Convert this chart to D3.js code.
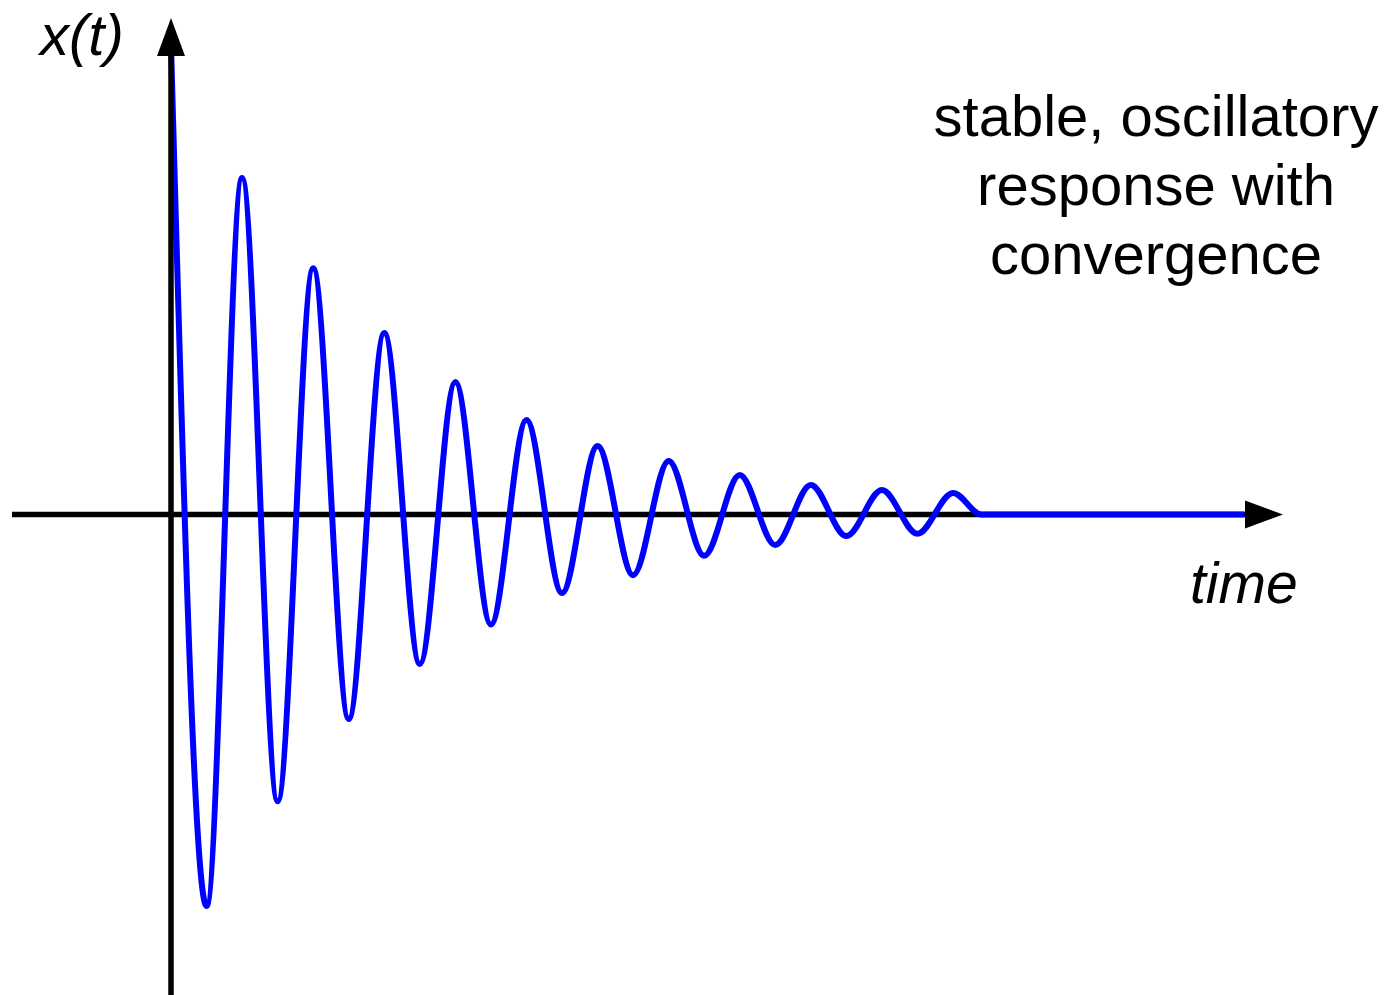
<!DOCTYPE html>
<html>
<head>
<meta charset="utf-8">
<script src="https://cdn.jsdelivr.net/npm/d3@7"></script>
<style>
  html, body { margin: 0; padding: 0; background: #fff; }
  svg { display: block; }
</style>
</head>
<body>
<div id="chart"></div>
<script>
// damped oscillation: extrema of the response
var times  = [0, 0.5, 1, 1.5, 2, 2.5, 3, 3.5, 4, 4.5, 5, 5.5, 6, 6.5, 7, 7.5, 8, 8.5, 9, 9.5, 10, 10.5, 11, 11.4, 15.1];
var values = [1.0, -0.833, 0.716, -0.610, 0.524, -0.435, 0.386, -0.318, 0.282, -0.234, 0.201, -0.167,
              0.146, -0.129, 0.114, -0.088, 0.084, -0.065, 0.063, -0.046, 0.052, -0.041, 0.046, 0, 0];

var yLabel = 'x(t)';
var xLabel = 'time';
var note = ['stable, oscillatory', 'response with', 'convergence'];

var w = 1386;
var h = 995;
var blue = '#0000ff';

var data = times.map((t, i) => ({t: t, v: values[i]}));

var x = d3.scaleLinear()
     .domain([0, 11])
     .range([171, 953]);

var y = d3.scaleLinear()
     .domain([0, 1])
     .range([514.5, 44.5]);

var svg = d3.select('#chart')
     .append('svg')
     .attr('width', w)
     .attr('height', h);

// horizontal axis with arrow
var xStart = x.invert(12), xEnd = x.invert(1283);
var arrowLen = 38, arrowHalf = 14;

svg.append('line')
     .attr('x1', x(xStart))
     .attr('x2', x(xEnd) - arrowLen + 2)
     .attr('y1', y(0))
     .attr('y2', y(0))
     .attr('stroke', '#000')
     .attr('stroke-width', 5.5);

svg.append('path')
     .attr('d', 'M' + x(xEnd) + ',' + y(0) +
                'L' + (x(xEnd) - arrowLen) + ',' + (y(0) - arrowHalf) +
                'L' + (x(xEnd) - arrowLen) + ',' + (y(0) + arrowHalf) + 'Z')
     .attr('fill', '#000');

// the response curve
var line = d3.line()
     .x(d => x(d.t))
     .y(d => y(d.v))
     .curve(d3.curveMonotoneX);

svg.append('path')
     .datum(data)
     .attr('d', line)
     .attr('fill', 'none')
     .attr('stroke', blue)
     .attr('stroke-width', 6)
     .attr('stroke-linejoin', 'round');

// vertical axis with arrow, drawn over the curve
var yTop = y.invert(18);

svg.append('line')
     .attr('x1', x(0))
     .attr('x2', x(0))
     .attr('y1', h)
     .attr('y2', y(yTop) + arrowLen - 2)
     .attr('stroke', '#000')
     .attr('stroke-width', 5.5);

svg.append('path')
     .attr('d', 'M' + x(0) + ',' + y(yTop) +
                'L' + (x(0) - arrowHalf) + ',' + (y(yTop) + arrowLen) +
                'L' + (x(0) + arrowHalf) + ',' + (y(yTop) + arrowLen) + 'Z')
     .attr('fill', '#000');

// labels
svg.append('text')
     .attr('x', 40)
     .attr('y', 55)
     .attr('font-family', 'Liberation Sans, Arial, sans-serif')
     .attr('font-style', 'italic')
     .attr('font-size', 58)
     .text(yLabel);

svg.append('text')
     .attr('x', 1190)
     .attr('y', 603)
     .attr('font-family', 'Liberation Sans, Arial, sans-serif')
     .attr('font-style', 'italic')
     .attr('font-size', 57)
     .text(xLabel);

svg.append('g')
     .selectAll('text')
     .data(note)
     .enter()
     .append('text')
     .attr('x', 1156)
     .attr('y', (d, i) => 136 + i * 69)
     .attr('text-anchor', 'middle')
     .attr('font-family', 'Liberation Sans, Arial, sans-serif')
     .attr('font-size', 58)
     .text(d => d);
</script>
</body>
</html>
